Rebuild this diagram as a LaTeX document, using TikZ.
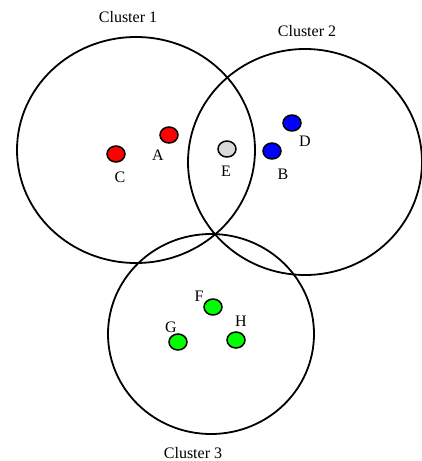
\documentclass[tikz,border=0pt]{standalone}
\usepackage{fontspec}
\setmainfont{Liberation Serif}
\definecolor{dotgrey}{RGB}{217,217,217}
\tikzset{
  cluster/.style={draw=black, line width=1.8pt},
  pt/.style={draw=black, line width=1.5pt, ellipse, minimum width=18pt, minimum height=16pt, inner sep=0pt},
  lbl/.style={font=\fontsize{16}{19}\selectfont, inner sep=0pt}
}
\usetikzlibrary{shapes.geometric}
\begin{document}
\begin{tikzpicture}[x=1pt,y=-1pt]
\useasboundingbox (0,0) rectangle (422,461);
% clusters
\draw[cluster] (136,150) ellipse [x radius=119, y radius=113];
\draw[cluster] (305,162) ellipse [x radius=117, y radius=113];
\draw[cluster] (211,334) ellipse [x radius=103, y radius=100];
% points
\node[pt, fill=red] (A) at (169,135) {};
\node[pt, fill=red] (C) at (116,154) {};
\node[pt, fill=dotgrey] (E) at (227,149) {};
\node[pt, fill=blue] (B) at (272,151) {};
\node[pt, fill=blue] (D) at (292,123) {};
\node[pt, fill=green] (F) at (213,307) {};
\node[pt, fill=green] (G) at (178,342) {};
\node[pt, fill=green] (H) at (236,340) {};
% labels
\node[lbl] (lA) at (158,155) {A};
\node[lbl] (lC) at (120,177) {C};
\node[lbl] (lE) at (226,171) {E};
\node[lbl] (lB) at (283,174) {B};
\node[lbl] (lD) at (305,141) {D};
\node[lbl] (lF) at (199,296) {F};
\node[lbl] (lG) at (171,327) {G};
\node[lbl] (lH) at (241,321) {H};
\node[lbl] (c1) at (128,17) {Cluster 1};
\node[lbl] (c2) at (307,31) {Cluster 2};
\node[lbl] (c3) at (193,453) {Cluster 3};
\end{tikzpicture}
\end{document}
